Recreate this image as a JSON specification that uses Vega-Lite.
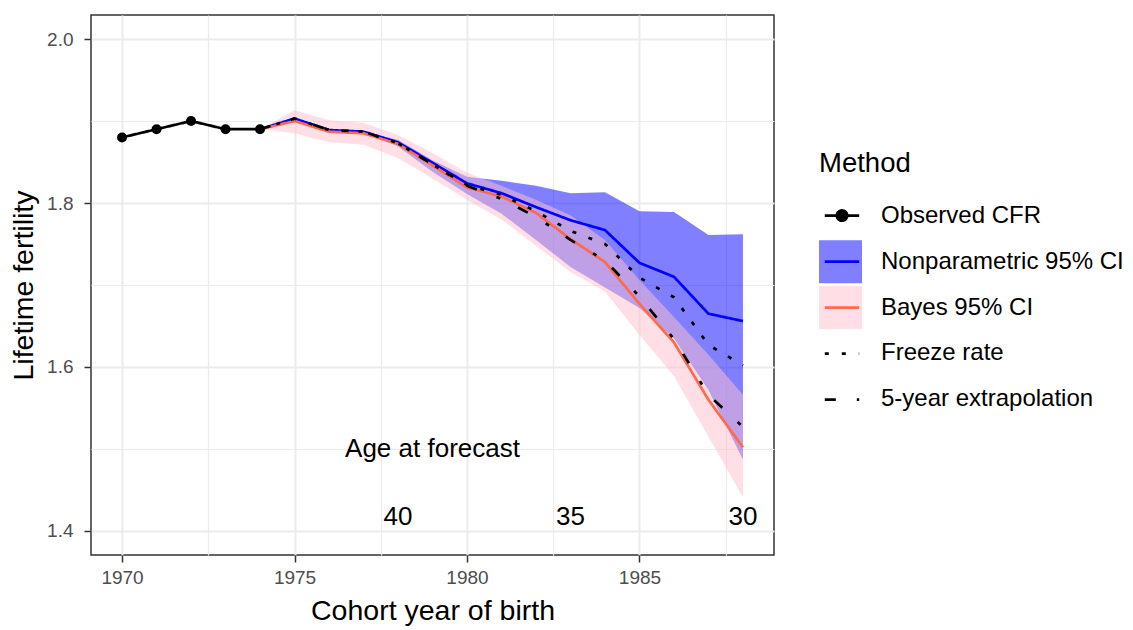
{
  "$schema": "https://vega.github.io/schema/vega-lite/v6.json",
  "width": 683,
  "height": 540,
  "autosize": {"type": "none"},
  "padding": {"left": 91, "top": 15, "right": 359, "bottom": 75},
  "background": "white",
  "config": {
    "font": "Liberation Sans",
    "view": {"stroke": "#333333", "strokeWidth": 1.5},
    "axis": {
      "domain": false,
      "gridColor": "#ebebeb",
      "tickColor": "#333333",
      "tickSize": 7,
      "tickWidth": 1.5,
      "labelColor": "#4d4d4d",
      "labelFontSize": 19,
      "labelFont": "Liberation Sans",
      "titleFont": "Liberation Sans",
      "titleFontSize": 28.5,
      "titleFontWeight": "normal",
      "titleColor": "black"
    }
  },
  "datasets": {
    "obs": [
      {"year": 1970, "value": 1.88, "method": "Observed CFR"},
      {"year": 1971, "value": 1.89, "method": "Observed CFR"},
      {"year": 1972, "value": 1.90, "method": "Observed CFR"},
      {"year": 1973, "value": 1.89, "method": "Observed CFR"},
      {"year": 1974, "value": 1.89, "method": "Observed CFR"}
    ],
    "lines": [
      {"year": 1974, "value": 1.89, "method": "Nonparametric 95% CI"},
      {"year": 1975, "value": 1.903, "method": "Nonparametric 95% CI"},
      {"year": 1976, "value": 1.889, "method": "Nonparametric 95% CI"},
      {"year": 1977, "value": 1.887, "method": "Nonparametric 95% CI"},
      {"year": 1978, "value": 1.874, "method": "Nonparametric 95% CI"},
      {"year": 1979, "value": 1.849, "method": "Nonparametric 95% CI"},
      {"year": 1980, "value": 1.824, "method": "Nonparametric 95% CI"},
      {"year": 1981, "value": 1.812, "method": "Nonparametric 95% CI"},
      {"year": 1982, "value": 1.795, "method": "Nonparametric 95% CI"},
      {"year": 1983, "value": 1.779, "method": "Nonparametric 95% CI"},
      {"year": 1984, "value": 1.767, "method": "Nonparametric 95% CI"},
      {"year": 1985, "value": 1.727, "method": "Nonparametric 95% CI"},
      {"year": 1986, "value": 1.710, "method": "Nonparametric 95% CI"},
      {"year": 1987, "value": 1.665, "method": "Nonparametric 95% CI"},
      {"year": 1988, "value": 1.656, "method": "Nonparametric 95% CI"},
      {"year": 1974, "value": 1.89, "method": "Bayes 95% CI"},
      {"year": 1975, "value": 1.900, "method": "Bayes 95% CI"},
      {"year": 1976, "value": 1.887, "method": "Bayes 95% CI"},
      {"year": 1977, "value": 1.885, "method": "Bayes 95% CI"},
      {"year": 1978, "value": 1.872, "method": "Bayes 95% CI"},
      {"year": 1979, "value": 1.846, "method": "Bayes 95% CI"},
      {"year": 1980, "value": 1.819, "method": "Bayes 95% CI"},
      {"year": 1981, "value": 1.808, "method": "Bayes 95% CI"},
      {"year": 1982, "value": 1.788, "method": "Bayes 95% CI"},
      {"year": 1983, "value": 1.756, "method": "Bayes 95% CI"},
      {"year": 1984, "value": 1.728, "method": "Bayes 95% CI"},
      {"year": 1985, "value": 1.677, "method": "Bayes 95% CI"},
      {"year": 1986, "value": 1.630, "method": "Bayes 95% CI"},
      {"year": 1987, "value": 1.560, "method": "Bayes 95% CI"},
      {"year": 1988, "value": 1.502, "method": "Bayes 95% CI"},
      {"year": 1974, "value": 1.89, "method": "Freeze rate"},
      {"year": 1975, "value": 1.903, "method": "Freeze rate"},
      {"year": 1976, "value": 1.889, "method": "Freeze rate"},
      {"year": 1977, "value": 1.887, "method": "Freeze rate"},
      {"year": 1978, "value": 1.873, "method": "Freeze rate"},
      {"year": 1979, "value": 1.847, "method": "Freeze rate"},
      {"year": 1980, "value": 1.822, "method": "Freeze rate"},
      {"year": 1981, "value": 1.810, "method": "Freeze rate"},
      {"year": 1982, "value": 1.790, "method": "Freeze rate"},
      {"year": 1983, "value": 1.766, "method": "Freeze rate"},
      {"year": 1984, "value": 1.750, "method": "Freeze rate"},
      {"year": 1985, "value": 1.709, "method": "Freeze rate"},
      {"year": 1986, "value": 1.685, "method": "Freeze rate"},
      {"year": 1987, "value": 1.627, "method": "Freeze rate"},
      {"year": 1988, "value": 1.602, "method": "Freeze rate"},
      {"year": 1974, "value": 1.89, "method": "5-year extrapolation"},
      {"year": 1975, "value": 1.903, "method": "5-year extrapolation"},
      {"year": 1976, "value": 1.889, "method": "5-year extrapolation"},
      {"year": 1977, "value": 1.887, "method": "5-year extrapolation"},
      {"year": 1978, "value": 1.873, "method": "5-year extrapolation"},
      {"year": 1979, "value": 1.847, "method": "5-year extrapolation"},
      {"year": 1980, "value": 1.821, "method": "5-year extrapolation"},
      {"year": 1981, "value": 1.805, "method": "5-year extrapolation"},
      {"year": 1982, "value": 1.783, "method": "5-year extrapolation"},
      {"year": 1983, "value": 1.755, "method": "5-year extrapolation"},
      {"year": 1984, "value": 1.730, "method": "5-year extrapolation"},
      {"year": 1985, "value": 1.686, "method": "5-year extrapolation"},
      {"year": 1986, "value": 1.634, "method": "5-year extrapolation"},
      {"year": 1987, "value": 1.566, "method": "5-year extrapolation"},
      {"year": 1988, "value": 1.527, "method": "5-year extrapolation"}
    ],
    "bands": [
      {"year": 1977, "lo": 1.887, "hi": 1.887, "method": "Nonparametric 95% CI"},
      {"year": 1978, "lo": 1.869, "hi": 1.877, "method": "Nonparametric 95% CI"},
      {"year": 1979, "lo": 1.838, "hi": 1.852, "method": "Nonparametric 95% CI"},
      {"year": 1980, "lo": 1.811, "hi": 1.832, "method": "Nonparametric 95% CI"},
      {"year": 1981, "lo": 1.787, "hi": 1.827, "method": "Nonparametric 95% CI"},
      {"year": 1982, "lo": 1.755, "hi": 1.821, "method": "Nonparametric 95% CI"},
      {"year": 1983, "lo": 1.722, "hi": 1.812, "method": "Nonparametric 95% CI"},
      {"year": 1984, "lo": 1.697, "hi": 1.813, "method": "Nonparametric 95% CI"},
      {"year": 1985, "lo": 1.672, "hi": 1.790, "method": "Nonparametric 95% CI"},
      {"year": 1986, "lo": 1.635, "hi": 1.789, "method": "Nonparametric 95% CI"},
      {"year": 1987, "lo": 1.572, "hi": 1.761, "method": "Nonparametric 95% CI"},
      {"year": 1988, "lo": 1.487, "hi": 1.762, "method": "Nonparametric 95% CI"},
      {"year": 1974, "lo": 1.89, "hi": 1.89, "method": "Bayes 95% CI"},
      {"year": 1975, "lo": 1.885, "hi": 1.913, "method": "Bayes 95% CI"},
      {"year": 1976, "lo": 1.874, "hi": 1.901, "method": "Bayes 95% CI"},
      {"year": 1977, "lo": 1.871, "hi": 1.898, "method": "Bayes 95% CI"},
      {"year": 1978, "lo": 1.855, "hi": 1.883, "method": "Bayes 95% CI"},
      {"year": 1979, "lo": 1.830, "hi": 1.861, "method": "Bayes 95% CI"},
      {"year": 1980, "lo": 1.804, "hi": 1.837, "method": "Bayes 95% CI"},
      {"year": 1981, "lo": 1.780, "hi": 1.821, "method": "Bayes 95% CI"},
      {"year": 1982, "lo": 1.748, "hi": 1.804, "method": "Bayes 95% CI"},
      {"year": 1983, "lo": 1.716, "hi": 1.785, "method": "Bayes 95% CI"},
      {"year": 1984, "lo": 1.692, "hi": 1.755, "method": "Bayes 95% CI"},
      {"year": 1985, "lo": 1.639, "hi": 1.706, "method": "Bayes 95% CI"},
      {"year": 1986, "lo": 1.589, "hi": 1.661, "method": "Bayes 95% CI"},
      {"year": 1987, "lo": 1.515, "hi": 1.615, "method": "Bayes 95% CI"},
      {"year": 1988, "lo": 1.441, "hi": 1.566, "method": "Bayes 95% CI"}
    ],
    "notes": [
      {"year": 1979, "value": 1.5, "label": "Age at forecast"},
      {"year": 1978, "value": 1.417, "label": "40"},
      {"year": 1983, "value": 1.417, "label": "35"},
      {"year": 1988, "value": 1.417, "label": "30"}
    ]
  },
  "encoding": {
    "x": {
      "field": "year",
      "type": "quantitative",
      "scale": {"domain": [1969.1, 1988.9], "nice": false, "zero": false},
      "axis": {
        "title": "Cohort year of birth",
        "values": [1970, 1972.5, 1975, 1977.5, 1980, 1982.5, 1985, 1987.5],
        "format": "d",
        "labelExpr": "datum.value % 5 === 0 ? datum.label : ''",
        "tickOpacity": {"condition": {"test": "datum.value % 5 === 0", "value": 1}, "value": 0},
        "gridWidth": {"condition": {"test": "datum.value % 5 === 0", "value": 2}, "value": 1.2},
        "labelPadding": 6,
        "titlePadding": 9,
        "labelFlush": false,
        "labelOverlap": false
      }
    }
  },
  "layer": [
    {
      "data": {"name": "bands"},
      "transform": [{"filter": "datum.method === 'Nonparametric 95% CI'"}],
      "mark": {"type": "area", "fillOpacity": 0.5},
      "encoding": {
        "y": {
          "field": "lo",
          "type": "quantitative",
          "scale": {"domain": [1.3707, 2.0293], "nice": false, "zero": false},
          "axis": {
            "title": "Lifetime fertility",
            "values": [1.4, 1.5, 1.6, 1.7, 1.8, 1.9, 2.0],
            "labelExpr": "round(datum.value * 10) % 2 === 0 ? format(datum.value, '.1f') : ''",
            "tickOpacity": {"condition": {"test": "round(datum.value * 10) % 2 === 0", "value": 1}, "value": 0},
            "gridWidth": {"condition": {"test": "round(datum.value * 10) % 2 === 0", "value": 2}, "value": 1.2},
            "labelPadding": 11,
            "titlePadding": 8
          }
        },
        "y2": {"field": "hi"},
        "fill": {
          "field": "method",
          "type": "nominal",
          "scale": {
            "domain": ["Observed CFR", "Nonparametric 95% CI", "Bayes 95% CI", "Freeze rate", "5-year extrapolation", "none"],
            "range": ["transparent", "blue", "pink", "transparent", "transparent", "transparent"]
          },
          "legend": {
            "values": ["Observed CFR", "Nonparametric 95% CI", "Bayes 95% CI", "Freeze rate", "5-year extrapolation"],
            "orient": "none", "legendX": 728, "legendY": 135,
            "title": "Method", "titleFontSize": 27.5, "titleFontWeight": "normal", "titleColor": "black", "titlePadding": 17, "titleFont": "Liberation Sans",
            "labelFontSize": 24, "labelColor": "black", "labelOffset": 19, "labelLimit": 400, "labelFont": "Liberation Sans",
            "symbolType": "square", "symbolSize": 1849, "symbolStrokeWidth": 0, "symbolOpacity": 0.5,
            "rowPadding": 2.8, "padding": 0
          }
        }
      }
    },
    {
      "data": {"name": "bands"},
      "transform": [{"filter": "datum.method === 'Bayes 95% CI'"}],
      "mark": {"type": "area", "fillOpacity": 0.5},
      "encoding": {
        "y": {"field": "lo", "type": "quantitative", "title": "Lifetime fertility"},
        "y2": {"field": "hi"},
        "fill": {"field": "method", "type": "nominal"}
      }
    },
    {
      "mark": {"type": "rule", "color": "black", "strokeWidth": 1.5},
      "encoding": {"y": {"datum": 1.75}}
    },
    {
      "data": {"name": "lines"},
      "transform": [{"filter": "datum.method === 'Nonparametric 95% CI' || datum.method === 'Bayes 95% CI'"}],
      "mark": {"type": "line", "strokeWidth": 2.7},
      "encoding": {
        "y": {"field": "value", "type": "quantitative", "title": "Lifetime fertility"},
        "stroke": {
          "field": "method",
          "type": "nominal",
          "scale": {
            "domain": ["Observed CFR", "Nonparametric 95% CI", "Bayes 95% CI", "Freeze rate", "5-year extrapolation"],
            "range": ["black", "blue", "#ff6a4d", "black", "black"]
          },
          "legend": {
            "orient": "none", "legendX": 728, "legendY": 177.6,
            "title": null,
            "labelExpr": "''", "labelFontSize": 1, "labelOffset": 19,
            "symbolSize": 1849, "symbolStrokeWidth": 2.7,
            "symbolType": "M-1,-0.786M-0.8,0H0.8M1,0.786",
            "rowPadding": 0, "padding": 0,
            "encode": {
              "symbols": {
                "update": {
                  "shape": {"signal": "datum.value === 'Observed CFR' ? 'M-1,-0.786M-0.8,0H0.8M0.24,0A0.24,0.24,0,1,1,-0.24,0A0.24,0.24,0,1,1,0.24,0M1,0.786' : 'M-1,-0.786M-0.8,0H0.8M1,0.786'"},
                  "fill": {"value": "black"}
                }
              }
            }
          }
        },
        "strokeDash": {
          "field": "method",
          "type": "nominal",
          "scale": {
            "domain": ["Observed CFR", "Nonparametric 95% CI", "Bayes 95% CI", "Freeze rate", "5-year extrapolation"],
            "range": [[1, 0], [1, 0], [1, 0], [4, 13], [11, 21, 4, 20]]
          },
          "legend": {
            "orient": "none", "legendX": 728, "legendY": 177.6,
            "title": null,
            "labelExpr": "''", "labelFontSize": 1, "labelOffset": 19,
            "symbolSize": 1849, "symbolStrokeWidth": 2.7,
            "symbolType": "M-1,-0.786M-0.8,0H0.8M1,0.786",
            "rowPadding": 0, "padding": 0
          }
        }
      }
    },
    {
      "data": {"name": "lines"},
      "transform": [{"filter": "datum.method === 'Freeze rate' || datum.method === '5-year extrapolation'"}],
      "mark": {"type": "line", "strokeWidth": 2.7},
      "encoding": {
        "y": {"field": "value", "type": "quantitative", "title": "Lifetime fertility"},
        "stroke": {"field": "method", "type": "nominal"},
        "strokeDash": {"field": "method", "type": "nominal"}
      }
    },
    {
      "data": {"name": "obs"},
      "mark": {"type": "line", "strokeWidth": 2.7},
      "encoding": {
        "y": {"field": "value", "type": "quantitative", "title": "Lifetime fertility"},
        "stroke": {"field": "method", "type": "nominal"},
        "strokeDash": {"field": "method", "type": "nominal"}
      }
    },
    {
      "data": {"name": "obs"},
      "mark": {"type": "point", "filled": true, "size": 100, "color": "black", "opacity": 1},
      "encoding": {
        "y": {"field": "value", "type": "quantitative", "title": "Lifetime fertility"}
      }
    },
    {
      "data": {"name": "notes"},
      "mark": {"type": "text", "fontSize": 26, "font": "Liberation Sans", "color": "black", "align": "center", "baseline": "middle"},
      "encoding": {
        "y": {"field": "value", "type": "quantitative", "title": "Lifetime fertility"},
        "text": {"field": "label", "type": "nominal"}
      }
    }
  ]
}
